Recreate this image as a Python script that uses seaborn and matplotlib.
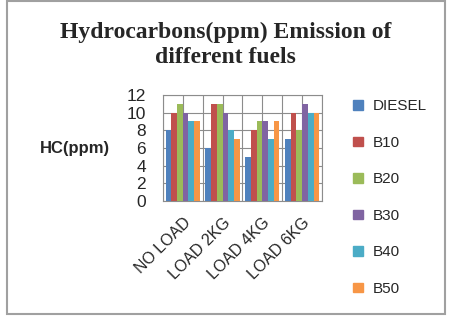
import matplotlib
matplotlib.use("Agg")
import matplotlib.pyplot as plt
import seaborn as sns
import pandas as pd
from matplotlib.patches import Rectangle

categories = ["NO LOAD", "LOAD 2KG", "LOAD 4KG", "LOAD 6KG"]
fuels = ["DIESEL", "B10", "B20", "B30", "B40", "B50"]
diesel = [8, 6, 5, 7]
b10 = [10, 11, 8, 10]
b20 = [11, 11, 9, 8]
b30 = [10, 10, 9, 11]
b40 = [9, 8, 7, 10]
b50 = [9, 7, 9, 10]
colors = ["#4F81BD", "#C0504D", "#9BBB59", "#8064A2", "#4BACC6", "#F79646"]

series = [diesel, b10, b20, b30, b40, b50]
rows = []
for f, vals in zip(fuels, series):
    for c, v in zip(categories, vals):
        rows.append({"load": c, "fuel": f, "hc": v})
df = pd.DataFrame(rows)

sns.set_style("white")
plt.rcParams['font.family'] = ['Liberation Sans', 'DejaVu Sans']

fig = plt.figure(figsize=(4.51, 3.22), dpi=100)
ax = fig.add_axes([0.361, 0.376, 0.353, 0.329])

sns.barplot(data=df, x="load", y="hc", hue="fuel", hue_order=fuels, order=categories,
            palette=colors, width=0.86, ax=ax, legend=False, saturation=1, zorder=3,
            linewidth=0, edgecolor="none")

ax.set_ylim(0, 12)
ax.set_xlim(-0.5, 3.5)
ax.set_yticks(range(0, 13, 2))
ax.tick_params(axis='y', labelsize=12.5, length=0, pad=12)
ax.tick_params(axis='x', labelsize=11.5, length=0, pad=10)
for lbl in ax.get_xticklabels():
    lbl.set_rotation(45)
    lbl.set_ha('right')
    lbl.set_rotation_mode('anchor')
ax.set_xlabel("")
ax.set_ylabel("")
ax.yaxis.grid(True, color="#8c8c8c", linewidth=0.8, zorder=0)
for xv in [-0.5, 0, 0.5, 1, 1.5, 2, 2.5, 3, 3.5]:
    ax.axvline(xv, color="#8c8c8c", linewidth=0.8, zorder=0)
for s in ax.spines.values():
    s.set_color("#8c8c8c")
    s.set_linewidth(0.8)

fig.text(0.5, 0.862, "Hydrocarbons(ppm) Emission of\ndifferent fuels",
         ha="center", va="center", fontsize=17, fontweight="bold",
         family=["Liberation Serif", "DejaVu Serif"], linespacing=1.25)
fig.text(0.089, 0.54, "HC(ppm)", ha="left", va="center", fontsize=12, fontweight="bold")

handles = [Rectangle((0, 0), 1, 1, color=c) for c in colors]
fig.legend(handles, fuels, loc="upper left", bbox_to_anchor=(0.77, 0.71),
           frameon=False, fontsize=11, handlelength=0.6, handleheight=0.6,
           labelspacing=1.47, handletextpad=0.7, borderaxespad=0)

fig.add_artist(Rectangle((7/451, 8/322), 438/451, 313/322, transform=fig.transFigure,
                         fill=False, edgecolor="#a0a0a0", linewidth=1.5))

fig.savefig("out.png", dpi=100)
